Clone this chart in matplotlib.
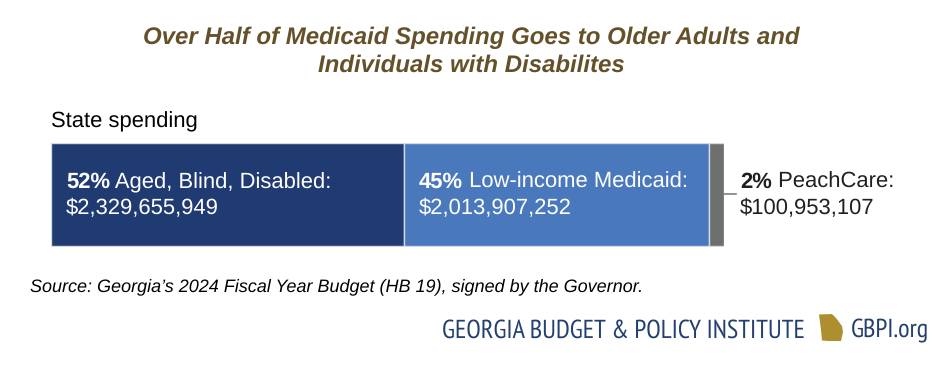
import matplotlib
matplotlib.use('Agg')
import matplotlib.pyplot as plt
from matplotlib.patches import Polygon

plt.rcParams['font.family'] = ['Liberation Sans', 'DejaVu Sans']
plt.rcParams['text.hinting'] = 'no_hinting'

title_lines = ['Over Half of Medicaid Spending Goes to Older Adults and', 'Individuals with Disabilites']
bar_title = 'State spending'
spending = [2329655949, 2013907252, 100953107]
shares = ['52%', '45%', '2%']
names = [' Aged, Blind, Disabled:', ' Low-income Medicaid:', ' PeachCare:']
amounts = ['$2,329,655,949', '$2,013,907,252', '$100,953,107']
colors = ['#203a72', '#4a78bc', '#6d6e6e']
text_colors = ['white', 'white', '#231f20']
source = 'Source: Georgia\u2019s 2024 Fiscal Year Budget (HB 19), signed by the Governor.'
org_name = 'GEORGIA BUDGET & POLICY INSTITUTE'
org_site = 'GBPI.org'
logo_font = ['PT Sans Narrow', 'Archivo Narrow', 'Liberation Sans']

W, H = 948, 370
fig = plt.figure(figsize=(W / 100, H / 100), dpi=100)
ax = fig.add_axes([50.5 / W, 1 - 246.5 / H, 673.5 / W, 103.5 / H])
total = sum(spending)

left = 0
for val, col in zip(spending, colors):
    ax.barh(0, val, left=left, height=1, color=col, edgecolor='#d5d9e6', linewidth=1)
    left += val
ax.set_xlim(0, total)
ax.set_ylim(-0.5, 0.5)
ax.axis('off')


def px(x, y):
    return x / W, 1 - y / H


def two_part(x, y, bold, rest, amount, color):
    t = fig.text(*px(x, y), bold, fontsize=15.8, fontweight='bold', color=color, va='baseline')
    fig.canvas.draw()
    box = t.get_window_extent()
    fig.text(box.x1 / W, 1 - y / H, rest, fontsize=15.8, color=color, va='baseline')
    fig.text(*px(x, y + 26), amount, fontsize=15.8, color=color, va='baseline')


fig.text(*px(471, 44), title_lines[0], fontsize=17.25, fontweight='bold', fontstyle='italic',
         color='#645129', ha='center', va='baseline')
fig.text(*px(471, 72), title_lines[1], fontsize=17.25, fontweight='bold', fontstyle='italic',
         color='#645129', ha='center', va='baseline')
fig.text(*px(51, 127), bar_title, fontsize=15.8, color='black', va='baseline')

two_part(66, 188, shares[0], names[0], amounts[0], text_colors[0])
two_part(419, 188, shares[1], names[1], amounts[1], text_colors[1])
two_part(740, 188, shares[2], names[2], amounts[2], text_colors[2])

# leader line from the small bar to its label
fig.add_artist(plt.Line2D([724 / W, 736 / W], [1 - 193.5 / H] * 2, color='#7f7f7f', lw=1.2))

fig.text(*px(30, 291), source, fontsize=12.95, fontstyle='italic', color='black', va='baseline')

fig.text(*px(442, 337.5), org_name, fontsize=19, family=logo_font, color='#23406f', va='baseline')
fig.text(*px(851, 337.5), org_site, fontsize=19, family=logo_font, color='#23406f', va='baseline')

# state outline in the logo
georgia = [(819, 314.5), (832, 314), (836, 318), (842, 326), (843, 332), (841, 341),
           (829, 341), (822, 340.5), (821, 330)]
fig.add_artist(Polygon([px(a, b) for a, b in georgia], closed=True, facecolor='#ad8f2f',
                       edgecolor='none', transform=fig.transFigure))

fig.savefig('out.png', dpi=100)
